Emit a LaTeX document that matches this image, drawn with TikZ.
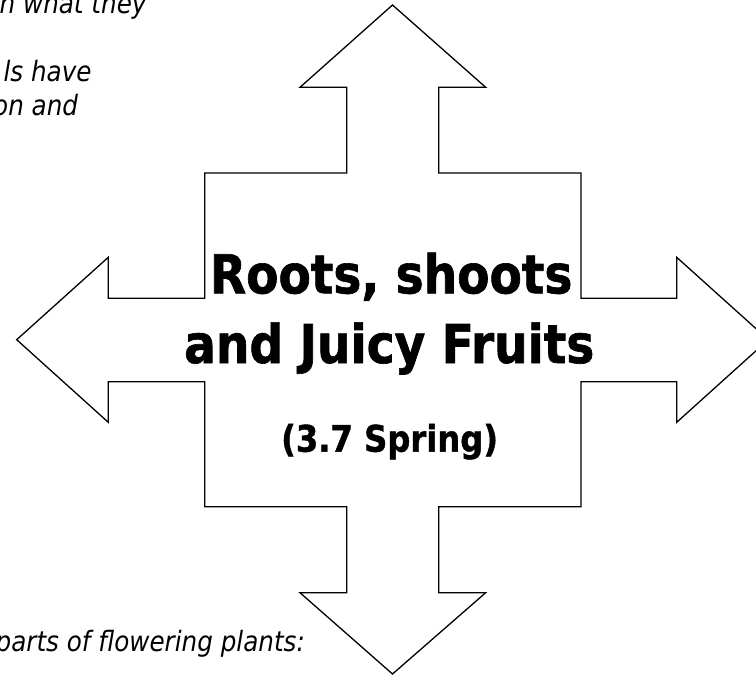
\documentclass[tikz,border=0pt]{standalone}
\usepackage{fontspec}
\setmainfont{DejaVu Sans}[BoldFont={DejaVu Sans Bold}, BoldFeatures={FakeBold=1.2}, ItalicFont={DejaVu Sans Oblique}, FakeStretch=0.88]
\usepackage{tikz}
\tikzset{every node/.append style={inner sep=0pt, anchor=base},
  titletext/.style={font=\fontsize{53.5}{60}\selectfont\bfseries},
  subtext/.style={font=\fontsize{36.6}{42}\selectfont\bfseries},
  notetext/.style={anchor=base east, font=\fontsize{28}{34}\selectfont\itshape}}

\begin{document}
\begin{tikzpicture}[x=1pt, y=-1pt]
    \useasboundingbox (0,0) rectangle (756,675);
    \clip (0,0) rectangle (756,675);
    \draw[line width=1.3pt, line join=miter]
      (392.5,5) -- (485.7,87.3) -- (438.7,87.3) -- (438.7,173) -- (581,173) -- (581,298.3)
      -- (676.7,298.3) -- (676.7,257.3) -- (768.3,339.7) -- (676.7,422.3) -- (676.7,381.7)
      -- (581,381.7) -- (581,506.7) -- (438.7,506.7) -- (438.7,592.7) -- (485.7,592.7)
      -- (392.5,674) -- (300,592.7) -- (346.7,592.7) -- (346.7,506.7) -- (204.7,506.7)
      -- (204.7,381.7) -- (108.3,381.7) -- (108.3,422.3) -- (16.7,339.7) -- (108.3,257.3)
      -- (108.3,298.3) -- (204.7,298.3) -- (204.7,173) -- (346.7,173) -- (346.7,87.3)
      -- (300,87.3) -- cycle;
    \node[titletext] (roots) at (391.2,293.3) {Roots, shoots};
    \node[titletext] (fruits) at (389.2,363) {and Juicy Fruits};
    \node[subtext] (spring) at (389.6,451.7) {(3.7 Spring)};
    \node[notetext] (noteA) at (146.7,13.3) {n what they};
    \node[notetext] (noteB) at (91.7,81.7) {ls have};
    \node[notetext] (noteC) at (78.3,115) {on and};
    \node[notetext] (noteD) at (305,651.7) {parts of flowering plants:};
\end{tikzpicture}
\end{document}
